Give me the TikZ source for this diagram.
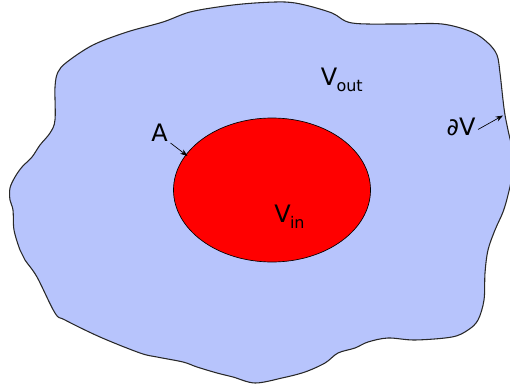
\documentclass[tikz,border=0pt]{standalone}
\usepackage{fontspec}
\setmainfont{DejaVu Sans}
\definecolor{outfill}{RGB}{183,196,252}
\definecolor{edge}{RGB}{40,40,40}
\tikzset{
  lbl/.style={font=\fontsize{18}{20}\selectfont, inner sep=0pt},
  ptr/.style={-{Stealth[length=5.5pt,width=4pt]}, line width=0.5pt, black},
}
\usetikzlibrary{arrows.meta}
\newcommand{\subtxt}[1]{\raisebox{-0.28em}{\fontsize{12}{14}\selectfont #1}}
\begin{document}
\begin{tikzpicture}[x=0.75pt,y=-0.75pt]
\useasboundingbox (0,0) rectangle (510,385);
\begin{scope}
\clip (0,0) rectangle (510,385);
\draw[fill=outfill, draw=edge, line width=0.8pt] plot[smooth cycle, tension=0.55] coordinates {
(255,3) (285,2) (305,5) (332,13) (352,23) (400,24) (442,24) (472,32) (488,43) (497,55) (500,73) (503,100) (505,115) (508,130) (512,150) (512,175) (508,195) (503,212) (495,230) (488,250) (485,273) (484,300) (478,320) (468,330) (452,337) (415,340) (388,338) (368,342) (355,348) (338,353) (325,363) (305,372) (282,378) (255,383) (233,377) (217,373) (197,367) (183,362) (157,357) (140,353) (100,337) (65,320) (55,313) (37,277) (25,260) (20,250) (14,230) (13,210) (10,200) (10,188) (15,177) (22,167) (32,157) (40,145) (50,133) (55,120) (55,87) (58,72) (67,62) (93,45) (127,32) (163,22) (190,12) (225,6)
};
\end{scope}
\draw[fill=red, draw=black, line width=0.5pt] (272,190) ellipse [x radius=98.5, y radius=72];
\node[lbl] (A) at (159.5,133) {A};
\coordinate (Atip) at (187.5,156);
\draw[ptr] (170.5,143) -- (Atip);
\node[lbl] (dV) at (461,127) {∂V};
\coordinate (dVtip) at (503,115.5);
\draw[ptr] (478,129.5) -- (dVtip);
\node[lbl, anchor=base west] (Vout) at (320.5,85) {V\kern-0.5pt\subtxt{out}};
\node[lbl, anchor=base west] (Vin) at (274,222) {V\kern-0.5pt\subtxt{in}};
\end{tikzpicture}
\end{document}
